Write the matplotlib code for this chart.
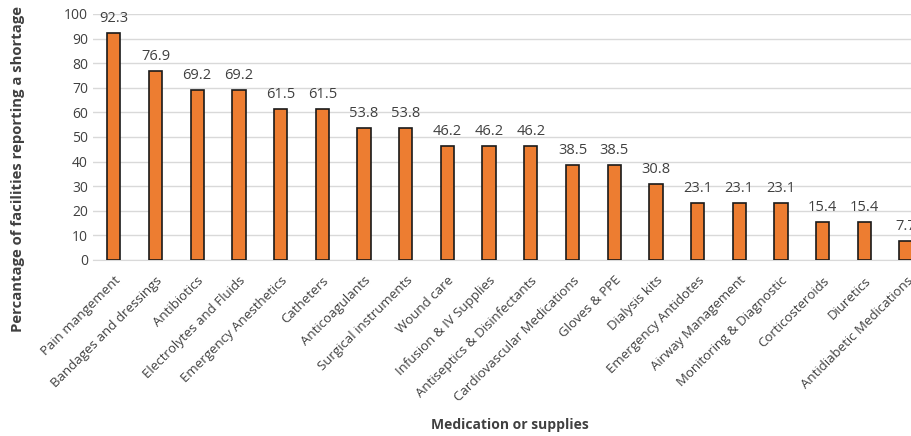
import matplotlib
matplotlib.use("Agg")
import matplotlib.pyplot as plt

plt.rcParams['font.family'] = ['Open Sans', 'DejaVu Sans']

# Shortage reported per medication / supply category
categories = ['Pain mangement', 'Bandages and dressings', 'Antibiotics',
              'Electrolytes and Fluids', 'Emergency Anesthetics', 'Catheters',
              'Anticoagulants', 'Surgical instruments', 'Wound care',
              'Infusion & IV Supplies', 'Antiseptics & Disinfectants',
              'Cardiovascular Medications', 'Gloves & PPE', 'Dialysis kits',
              'Emergency Antidotes', 'Airway Management',
              'Monitoring & Diagnostic', 'Corticosteroids', 'Diuretics',
              'Antidiabetic Medications']
percent = [92.3, 76.9, 69.2, 69.2, 61.5, 61.5, 53.8, 53.8, 46.2, 46.2, 46.2,
           38.5, 38.5, 30.8, 23.1, 23.1, 23.1, 15.4, 15.4, 7.7]
yticks = list(range(0, 101, 10))

fig = plt.figure(figsize=(9.11, 4.36), dpi=100)
# axes runs past the right edge, as in the reference (last label is cut)
ax = fig.add_axes([0.102, 0.4037, 0.9155, 0.5643])

x = list(range(len(categories)))
ax.bar(x, percent, width=0.32, color='#ED7D31', edgecolor='#1a1a1a',
       linewidth=1.2, zorder=3)

for xi, v in zip(x, percent):
    ax.text(xi, v + 2.8, f'{v:.1f}', ha='center', va='bottom',
            fontsize=10.5, color='#404040')

ax.set_xlim(-0.5, len(categories) - 0.5)
ax.set_ylim(0, 100)
ax.set_yticks(yticks)
ax.yaxis.grid(True, color='#d9d9d9', linewidth=1, zorder=0)
ax.set_axisbelow(True)
for s in ['top', 'right', 'left']:
    ax.spines[s].set_visible(False)
ax.spines['bottom'].set_color('#d9d9d9')
ax.tick_params(axis='both', length=0, labelsize=10, colors='#404040')
ax.tick_params(axis='x', pad=10)
ax.set_xticks(x)
ax.set_xticklabels(categories, rotation=45, ha='right', rotation_mode='anchor',
                   fontsize=9.5, color='#404040')

fig.text(0.02, 0.612, 'Percantage of facilities reporting a shortage',
         rotation=90, ha='center', va='center', fontsize=10.7,
         fontweight='bold', color='#404040')
fig.text(0.56, 0.025, 'Medication or supplies', ha='center', va='center',
         fontsize=10, fontweight='bold', color='#404040')

fig.savefig('out.png', dpi=100)
